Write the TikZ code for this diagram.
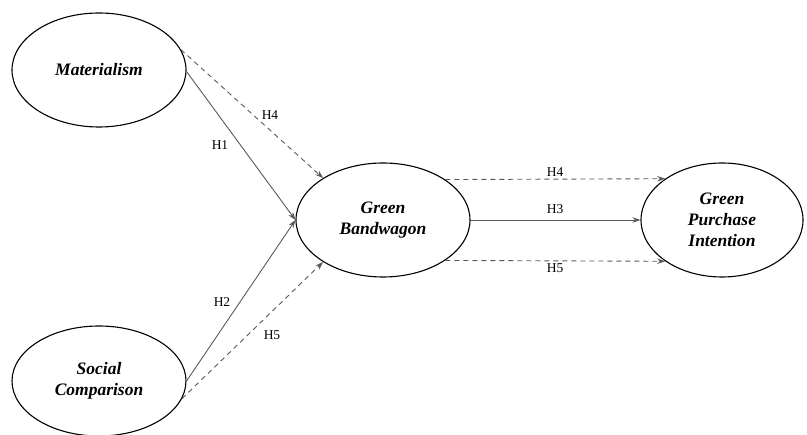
\documentclass[tikz,border=0pt]{standalone}
\usepackage{fontspec}
\setmainfont{Liberation Serif}
\usetikzlibrary{shapes.geometric,arrows.meta}
\begin{document}
\begin{tikzpicture}[x=1pt,y=-1pt,
  construct/.style={draw=black,line width=1.1pt,ellipse,inner sep=0pt,
    minimum height=114pt,align=center,
    font=\fontsize{17.5}{21}\selectfont\bfseries\itshape},
  path/.style={draw=black!65,line width=0.9pt,-{Stealth[length=8pt,width=5.5pt]}},
  dpath/.style={path,dash pattern=on 5pt off 4pt},
  hlabel/.style={font=\fontsize{13.5}{15}\selectfont,inner sep=1pt}]
\useasboundingbox (0,0) rectangle (807,435);
\node[construct,minimum width=174pt] (mat) at (99,70) {Materialism};
\node[construct,minimum width=174pt,minimum height=110pt] (soc) at (99,381) {Social\\Comparison};
\node[construct,minimum width=174pt] (gb) at (383,220) {Green\\Bandwagon};
\node[construct,minimum width=162pt] (gpi) at (722,220) {Green\\Purchase\\Intention};
\draw[path] (mat.-1) -- (gb.180);
\draw[dpath] (mat.14) -- (gb.145);
\draw[path] (soc.0) -- (gb.180);
\draw[dpath] (soc.-12) -- (gb.215);
\draw[dpath] (gb.33) -- (gpi.144);
\draw[path] (gb.0) -- (gpi.180);
\draw[dpath] (gb.-33) -- (gpi.-144);
\node[hlabel] (l1) at (220,145) {H1};
\node[hlabel] (l4a) at (270,115) {H4};
\node[hlabel] (l2) at (222,302) {H2};
\node[hlabel] (l5a) at (272,335) {H5};
\node[hlabel] (l4b) at (555,172) {H4};
\node[hlabel] (l3) at (555,209) {H3};
\node[hlabel] (l5b) at (555,268) {H5};
\end{tikzpicture}
\end{document}
